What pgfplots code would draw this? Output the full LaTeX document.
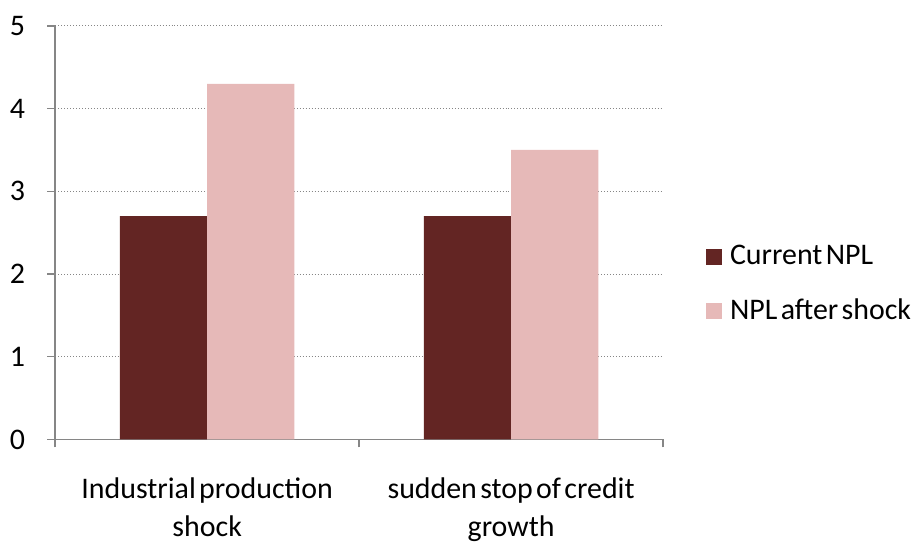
\documentclass[border=0pt]{standalone}
\usepackage{fontspec}
\setmainfont{Carlito}[WordSpace=0.5]
\usepackage{pgfplots}
\pgfplotsset{compat=1.18}
\definecolor{npldark}{HTML}{632523}
\definecolor{npllight}{HTML}{E6B9B8}
\definecolor{axisgray}{HTML}{868686}
\begin{document}
\fontsize{30bp}{37bp}\selectfont
\begin{tikzpicture}
\begin{axis}[
  name=main,
  at={(0,0)}, anchor=south west,
  scale only axis,
  width=610bp, height=415bp,
  ybar=0pt, bar width=87.5bp,
  xmin=-0.5, xmax=1.5,
  ymin=0, ymax=5,
  ytick={0,1,2,3,4,5},
  xtick={-0.5,0.5,1.5},
  xticklabels={},
  extra x ticks={0,1},
  extra x tick labels={Industrial production\\shock, sudden stop of credit\\growth},
  extra x tick style={major tick length=0pt, xticklabel style={yshift=-28bp}},
  xticklabel style={align=center, font=\fontsize{30bp}{38bp}\selectfont},
  yticklabel style={xshift=-12bp},
  ticklabel style={font=\fontsize{30bp}{38bp}\selectfont},
  /pgf/number format/assume math mode=true,
  tick align=outside,
  major tick length=8bp,
  tick style={axisgray, line width=1.5bp},
  axis x line*=bottom, axis y line*=left,
  axis line style={axisgray, line width=1.5bp, -},
  ymajorgrids,
  grid style={axisgray, line width=1bp, dotted},
  legend style={draw=none, fill=none, at={(rel axis cs:1.0656,0.375)}, anchor=west,
    font=\fontsize{30bp}{37bp}\selectfont, row sep=22bp,
    nodes={inner sep=4bp}},
  legend cell align=left,
  legend image code/.code={\fill[#1,draw=none] (0bp,-8bp) rectangle (16bp,8bp);},
]
\addplot[fill=npldark, draw=none] coordinates {(0,2.7) (1,2.7)};
\addplot[fill=npllight, draw=none] coordinates {(0,4.3) (1,3.5)};
\legend{\hspace{4bp}Current NPL, \hspace{4bp}NPL after shock}
\end{axis}
\path[use as bounding box] (-53bp,-96bp) rectangle (865bp,441bp);
\end{tikzpicture}
\end{document}
